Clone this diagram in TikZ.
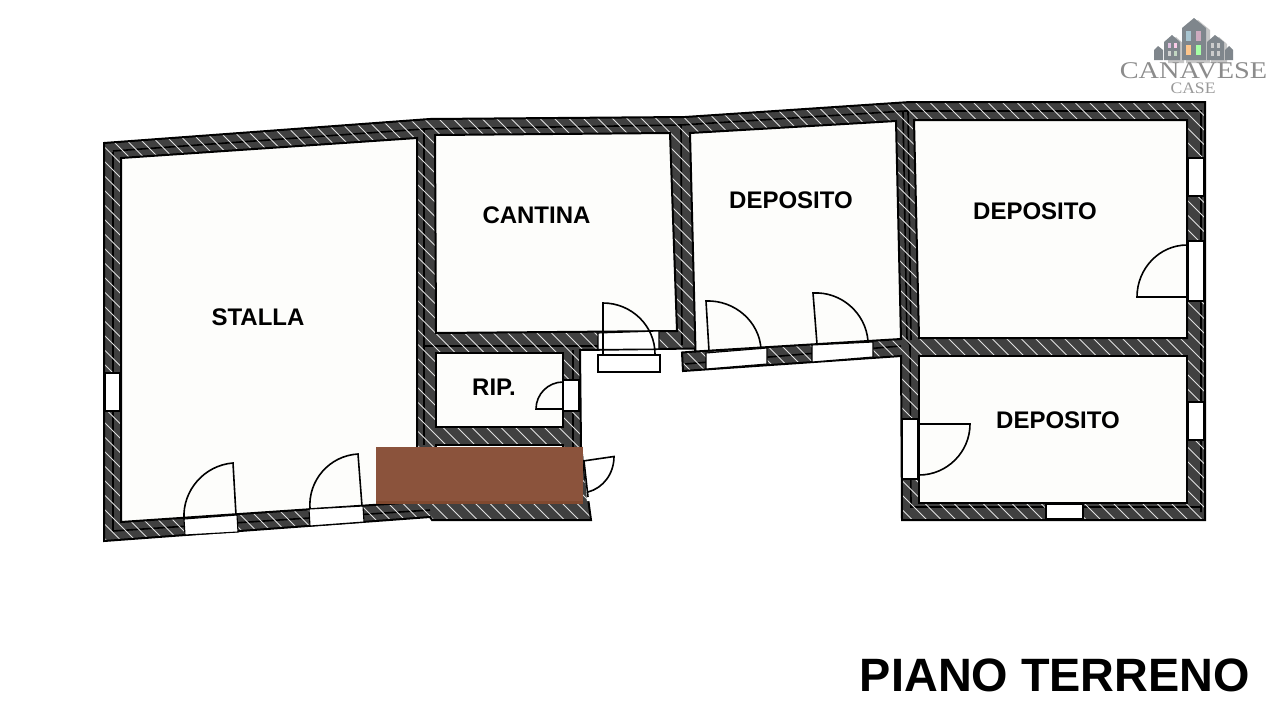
\documentclass[tikz,border=0pt]{standalone}
\usepackage{fontspec}
\setmainfont{Liberation Sans}
\newfontfamily\logofont{Liberation Serif}
\usetikzlibrary{calc}
\definecolor{wallgray}{HTML}{404040}
\definecolor{roomwhite}{HTML}{FDFDFB}
\definecolor{patchbrown}{HTML}{8B533C}
\definecolor{patchdark}{HTML}{80492F}
\definecolor{logogray}{HTML}{7F868C}
\newcommand{\doorleaf}[3]{\draw[leaf] (#1) -- (#2) .. controls ($(#2)+0.55*(#3)-0.55*(#1)$) and ($(#3)+0.55*(#2)-0.55*(#1)$) .. (#3);}
\tikzset{
  x=1pt,y=-1pt,
  outline/.style={draw=black,line width=2pt,line join=miter},
  room/.style={draw=black,line width=2pt,fill=roomwhite,line join=miter},
  opening/.style={draw=black,line width=1.1pt,fill=white},
  leaf/.style={draw=black,line width=1.6pt},
  median/.style={draw=black,line width=1.6pt},
  hatch/.style={draw=white!88!black,line width=0.8pt},
  roomlabel/.style={font=\fontsize{24}{24}\selectfont\bfseries,text=black,inner sep=0pt},
  house/.style={fill=logogray,draw=none},
  houseshadow/.style={fill=black!22,draw=none}
}
\begin{document}
\begin{tikzpicture}
\useasboundingbox (0,0) rectangle (1280,718);
\fill[white] (0,0) rectangle (1280,718);
% walls
\fill[wallgray] (104,143) -- (430,119) -- (685,117) -- (910,102) -- (1205,102) -- (1205,520) -- (902,520) -- (901,356) -- (683,371) -- (682,352.5) -- (695,351.5) -- (695,348.5) -- (580,350) -- (581,447) -- (591,520) -- (432,520) -- (430,517) -- (104,541) -- cycle;
% medians
\draw[median] (113,152) -- (113,531);
\draw[median] (113,151) -- (424,129) -- (681,125) -- (905,111) -- (1201,111) -- (1201,512);
\draw[median] (113,531) -- (430,510);
\draw[median] (424,129) -- (424,445);
\draw[median] (681,125) -- (682,345);
\draw[median] (903,112) -- (907,340) -- (910,345) -- (911,507) -- (1201,507);
\draw[median] (908,112) -- (911,340);
\draw[median] (425,346) -- (598,346);
\draw[median] (573,350) -- (573,447);
\draw[median] (685,364) -- (901,346);
% hatching
\begin{scope}
\clip (104,143) -- (430,119) -- (685,117) -- (910,102) -- (1205,102) -- (1205,520) -- (902,520) -- (901,356) -- (683,371) -- (682,352.5) -- (695,351.5) -- (695,348.5) -- (580,350) -- (581,447) -- (591,520) -- (432,520) -- (430,517) -- (104,541) -- cycle;
\foreach \c in {-60,-59,...,85}{
  \draw[hatch] ({\c*14.5+1},0) -- ({\c*14.5+719},718);
}
\end{scope}
\draw[outline] (104,143) -- (430,119) -- (685,117) -- (910,102) -- (1205,102) -- (1205,520) -- (902,520) -- (901,356) -- (683,371) -- (682,352.5) -- (695,351.5) -- (695,348.5) -- (580,350) -- (581,447) -- (591,520) -- (432,520) -- (430,517) -- (104,541) -- cycle;
% rooms
\draw[room] (121,158) -- (417,138) -- (417,502) -- (121,522) -- cycle;
\draw[room] (435,135) -- (670,133) -- (677,331) -- (436,333) -- cycle;
\draw[room] (690,133) -- (896,121) -- (901,339) -- (695.5,351.5) -- cycle;
\draw[room] (914,120) -- (1187,120) -- (1187,338) -- (919,338) -- cycle;
\draw[room] (919,356) -- (1187,356) -- (1187,503) -- (919,503) -- cycle;
\draw[room] (436,353) -- (563,353) -- (563,427) -- (436,427) -- cycle;
\draw[room] (436,445) -- (563,445) -- (563,503) -- (436,503) -- cycle;
% openings
\draw[opening] (184,519) -- (237,515) -- (238,532) -- (185,535) -- cycle;
\draw[opening] (309,509) -- (363,506) -- (364,522) -- (310,526) -- cycle;
\draw[opening] (598,333) -- (659,331) -- (659,349) -- (598,349.5) -- cycle;
\draw[opening] (598,355) rectangle (660,372);
\draw[opening] (563,380) rectangle (579,411);
\draw[opening] (706,353) -- (767,348) -- (767,364) -- (706,369) -- cycle;
\draw[opening] (812,345) -- (873,342) -- (873,357) -- (812,362) -- cycle;
\draw[opening] (902,419) rectangle (918,479);
\draw[opening] (1188,241) rectangle (1204,301);
\draw[opening] (1188,158) rectangle (1204,196);
\draw[opening] (1188,402) rectangle (1204,440);
\draw[opening] (1046,504) rectangle (1083,519);
\draw[opening] (105,373) rectangle (120,411);
% doors
\coordinate (h1) at (236,515); \coordinate (t1) at (233,463); \coordinate (e1) at (184,519);
\doorleaf{h1}{t1}{e1}
\coordinate (h2) at (362,506); \coordinate (t2) at (358,454); \coordinate (e2) at (310,509);
\doorleaf{h2}{t2}{e2}
\coordinate (h3) at (603,354); \coordinate (t3) at (603,303); \coordinate (e3) at (655,354);
\doorleaf{h3}{t3}{e3}
\coordinate (h4) at (563,409); \coordinate (t4) at (536,409); \coordinate (e4) at (563,382);
\doorleaf{h4}{t4}{e4}
\coordinate (h5) at (709,351); \coordinate (t5) at (706,301); \coordinate (e5) at (761,349);
\doorleaf{h5}{t5}{e5}
\coordinate (h6) at (817,344); \coordinate (t6) at (813,293); \coordinate (e6) at (868,341);
\doorleaf{h6}{t6}{e6}
\coordinate (h7) at (919,424); \coordinate (t7) at (970,424); \coordinate (e7) at (919,475);
\doorleaf{h7}{t7}{e7}
\coordinate (h8) at (1187,297); \coordinate (t8) at (1137,297); \coordinate (e8) at (1187,245);
\doorleaf{h8}{t8}{e8}
\fill[white] (583.5,458) -- (588,458) -- (591,501) -- (587,501) -- cycle;
\draw[leaf] (584,461) -- (588,497);
\coordinate (h9) at (583,461); \coordinate (t9) at (614,456.5); \coordinate (e9) at (588,492);
\draw[leaf] (h9) -- (t9) .. controls (614,474) and (603,488) .. (e9);
% covering patch
\fill[patchbrown] (376,447) rectangle (583,504);
\fill[patchdark] (376,501) rectangle (583,504);
% labels
\node[roomlabel] (stalla) at (258,317) {STALLA};
\node[roomlabel] (cantina) at (536.5,215.5) {CANTINA};
\node[roomlabel] (dep1) at (791,200.5) {DEPOSITO};
\node[roomlabel] (dep2) at (1035,211.5) {DEPOSITO};
\node[roomlabel] (dep3) at (1058,420.5) {DEPOSITO};
\node[roomlabel] (rip) at (494,387) {RIP.};
\node[font=\fontsize{46.8}{48}\selectfont\bfseries,inner sep=0pt] (title) at (1055,675) {PIANO TERRENO};
% logo
\fill[houseshadow] (1186,30) -- (1198,20) -- (1210,30) -- (1210,63) -- (1186,63) -- cycle;
\fill[houseshadow] (1168,44) -- (1176,37) -- (1184,44) -- (1184,63) -- (1168,63) -- cycle;
\fill[houseshadow] (1211,44) -- (1219,37) -- (1227,44) -- (1227,63) -- (1211,63) -- cycle;
\fill[house] (1182,28) -- (1194,18) -- (1206,28) -- (1206,60) -- (1182,60) -- cycle;
\fill[house] (1164,42) -- (1172,35) -- (1180,42) -- (1180,60) -- (1164,60) -- cycle;
\fill[house] (1207,42) -- (1215,35) -- (1224,42) -- (1224,60) -- (1207,60) -- cycle;
\fill[house] (1154,50) -- (1158,46) -- (1163,50) -- (1163,60) -- (1154,60) -- cycle;
\fill[house] (1225,50) -- (1229,46) -- (1233,50) -- (1233,60) -- (1225,60) -- cycle;
\fill[cyan!35!gray!60!white] (1186,31) rectangle (1191,41);
\fill[magenta!30!gray!60!white] (1196,31) rectangle (1201,41);
\fill[orange!45!white] (1186,45) rectangle (1191,55);
\fill[green!35!white] (1196,45) rectangle (1201,55);
\fill[violet!25!white] (1168,43) rectangle (1171,48);
\fill[magenta!20!white] (1174,43) rectangle (1177,48);
\fill[gray!35] (1168,51) rectangle (1171,56);
\fill[green!20!gray!40] (1174,51) rectangle (1177,56);
\fill[gray!40] (1211,43) rectangle (1214,48);
\fill[gray!40] (1217,43) rectangle (1220,48);
\fill[gray!40] (1211,51) rectangle (1214,56);
\fill[gray!40] (1217,51) rectangle (1220,56);
\node[font=\logofont\fontsize{24}{24}\selectfont,text=black!45,inner sep=0pt,xscale=1.18,anchor=base] (logotext) at (1193.5,78) {CANAVESE};
\node[font=\logofont\fontsize{16}{16}\selectfont,text=black!40,inner sep=0pt,xscale=1.1,anchor=base] (logotext2) at (1193,93.5) {CASE};
\end{tikzpicture}
\end{document}
